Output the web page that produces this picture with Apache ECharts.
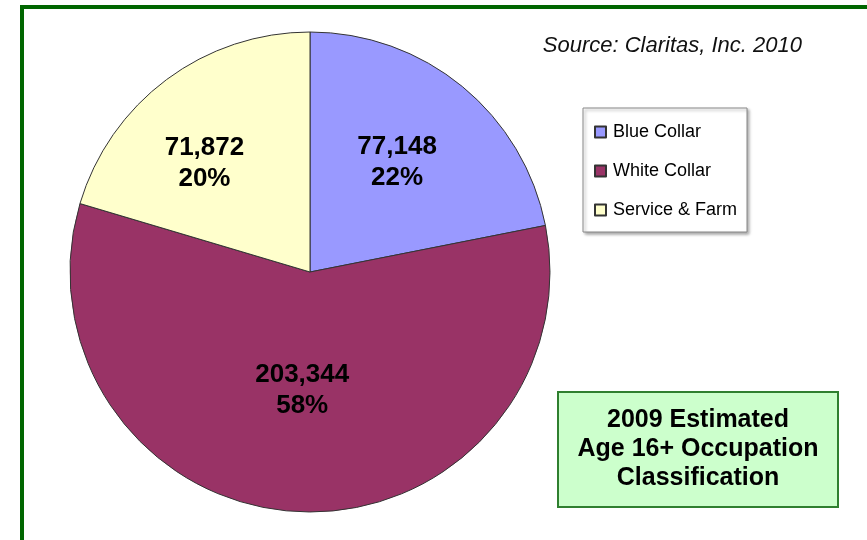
<!DOCTYPE html>
<html>
<head>
<meta charset="utf-8">
<script src="https://cdn.jsdelivr.net/npm/echarts@6/dist/echarts.min.js"></script>
<style>
  html, body { margin: 0; padding: 0; background: #fff; }
  #main { width: 867px; height: 540px; }
</style>
</head>
<body>
<div id="main"></div>
<script>
// data
const categories = ['Blue Collar', 'White Collar', 'Service & Farm'];
const counts = [77148, 203344, 71872];
const sliceColors = ['#9999ff', '#993366', '#ffffcc'];
// nudge the inside labels to where the original has them
const labelOffsets = { 'Blue Collar': [9, -15], 'White Collar': [-2, -5], 'Service & Farm': [-32, -10] };

const chart = echarts.init(document.getElementById('main'));

const pieData = categories.map((name, i) => ({
  name: name,
  value: counts[i],
  itemStyle: { color: sliceColors[i] },
  label: { offset: labelOffsets[name] }
}));

const option = {
  animation: false,
  graphic: [
    {
      // outer green frame
      type: 'rect',
      shape: { x: 22, y: 7, width: 900, height: 600 },
      style: { fill: null, stroke: '#006600', lineWidth: 4 },
      silent: true
    }
  ],
  title: [
    {
      text: '2009 Estimated\nAge 16+ Occupation\nClassification',
      left: 678,
      top: 392,
      textAlign: 'center',
      backgroundColor: '#ccffcc',
      borderColor: '#2f7f2f',
      borderWidth: 2,
      padding: [14, 20],
      textStyle: {
        fontFamily: 'Liberation Sans, Arial, sans-serif',
        fontWeight: 'bold',
        fontSize: 25,
        lineHeight: 29,
        color: '#000'
      }
    },
    {
      text: 'Source: Claritas, Inc. 2010',
      right: 60,
      top: 30,
      textStyle: {
        fontFamily: 'Liberation Sans, Arial, sans-serif',
        fontStyle: 'italic',
        fontWeight: 'normal',
        fontSize: 22,
        color: '#111'
      }
    }
  ],
  legend: {
    orient: 'vertical',
    left: 583,
    top: 108,
    padding: [15, 10, 13, 11],
    itemWidth: 11,
    itemHeight: 11,
    itemGap: 21,
    backgroundColor: '#fff',
    borderColor: '#888',
    borderWidth: 1,
    shadowColor: 'rgba(0,0,0,0.35)',
    shadowBlur: 3,
    shadowOffsetX: 2,
    shadowOffsetY: 2,
    icon: 'rect',
    textStyle: {
      fontFamily: 'Liberation Sans, Arial, sans-serif',
      fontSize: 18,
      color: '#000',
      padding: [0, 0, 0, 2]
    },
    data: categories
  },
  series: [
    {
      type: 'pie',
      center: [310, 272],
      radius: 240,
      startAngle: 90,
      clockwise: true,
      percentPrecision: 0,
      itemStyle: { borderColor: '#333', borderWidth: 1 },
      label: {
        position: 'inside',
        fontFamily: 'Liberation Sans, Arial, sans-serif',
        fontWeight: 'bold',
        fontSize: 26,
        lineHeight: 31,
        color: '#000',
        formatter: p => p.value.toLocaleString('en-US') + '\n' + Math.round(p.percent) + '%'
      },
      labelLine: { show: false },
      emphasis: { disabled: true },
      data: pieData
    }
  ]
};

chart.setOption(option);
</script>
</body>
</html>
